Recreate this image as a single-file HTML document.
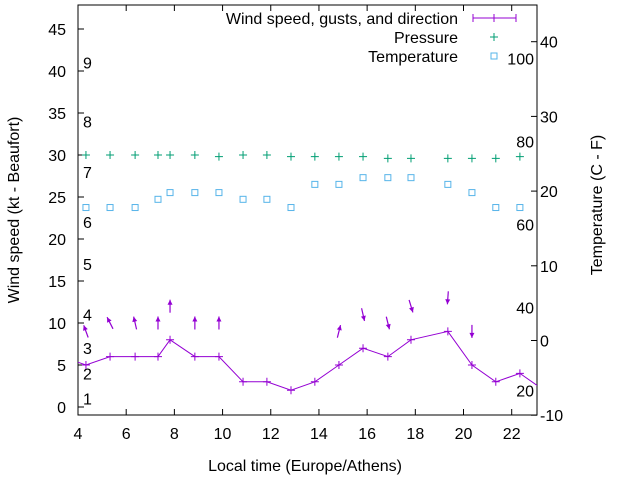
<!DOCTYPE html>
<html><head><meta charset="utf-8"><style>
body{margin:0;background:#fff}
svg{display:block;font-family:"Liberation Sans",sans-serif;font-size:16px}
</style></head><body>
<svg id="c" width="640" height="480" viewBox="0 0 640 480"></svg>
<script>
const hours=[4.33,5.33,6.37,7.32,7.82,8.85,9.85,10.85,11.84,12.84,13.83,14.83,15.83,16.86,17.82,19.35,20.35,21.34,22.34];
const windSpeed=[5,6,6,6,8,6,6,3,3,2,3,5,7,6,8,9,5,3,4];
const windPrevHour=3.33, windPrev=6, windNextHour=23.34, windNext=2;
const gusts=[9,10,10,10,12,10,10,null,null,null,null,9,11,10,12,13,9,null,null];
const windDir=[340,333,347,0,0,0,0,null,null,null,null,14,167,166,163,184,180,null,null];
const pressure=[30,30,30,30,30,30,29.8,30,30,29.8,29.8,29.8,29.8,29.6,29.6,29.6,29.6,29.6,29.8];
const temperature=[17.8,17.8,17.8,18.9,19.8,19.8,19.8,18.9,18.9,17.8,20.9,20.9,21.8,21.8,21.8,20.9,19.8,17.8,17.8];
const xTicks=[4,6,8,10,12,14,16,18,20,22];
const yLeftTicks=[0,5,10,15,20,25,30,35,40,45];
const yRightTicks=[-10,0,10,20,30,40];
const fTicks=[20,40,60,80,100];
const beaufort=[1,4,7,11,17,22,28,34,41];

const L=78,R=537,T=5,B=415;
const X=h=>L+(h-4)*(R-L)/(23.05-4);
const YL=v=>407-v*8.4;
const YR=v=>340.5-v*7.47;
const NS="http://www.w3.org/2000/svg";
const svg=document.getElementById('c');
function el(tag,attrs,parent){const e=document.createElementNS(NS,tag);for(const k in attrs)e.setAttribute(k,attrs[k]);(parent||svg).appendChild(e);return e;}

xTicks.forEach(t=>{
  const x=X(t);
  el('line',{x1:x,y1:B,x2:x,y2:B-6,stroke:'#000'});
  el('line',{x1:x,y1:T,x2:x,y2:T+6,stroke:'#000'});
  const tx=el('text',{x:x,y:B+24,'text-anchor':'middle'});tx.textContent=t;
  
  
});
yLeftTicks.forEach(t=>{
  const y=YL(t);
  el('line',{x1:L,y1:y,x2:L+6,y2:y,stroke:'#000'});
  const tx=el('text',{x:L-12,y:y+6,'text-anchor':'end'});tx.textContent=t;
  
  
});
yRightTicks.forEach(t=>{
  const y=YR(t);
  el('line',{x1:R,y1:y,x2:R-6,y2:y,stroke:'#000'});
  const tx=el('text',{x:R+3,y:y+6,'text-anchor':'start'});tx.textContent=t;
  
  
});
fTicks.forEach(f=>{
  const c=(f-32)*5/9;
  const tx=el('text',{x:R-3,y:YR(c)+6,'text-anchor':'end'});tx.textContent=f;
  
  
});
beaufort.forEach((k,i)=>{
  const tx=el('text',{x:L+5,y:YL(k)+6});tx.textContent=i+1;
  
  
});
const border=el('rect',{x:L,y:T,width:R-L,height:B-T,fill:'none',stroke:'#000'});



const defs=el('defs',{});const cp=el('clipPath',{id:'pc'},defs);el('rect',{x:L,y:T,width:R-L,height:B-T},cp);
const g=el('g',{'clip-path':'url(#pc)'});

const pts=[[windPrevHour,windPrev]].concat(hours.map((h,i)=>[h,windSpeed[i]])).concat([[windNextHour,windNext]]);
const wl=el('polyline',{points:pts.map(p=>X(p[0])+','+YL(p[1])).join(' '),fill:'none',stroke:'#9400d3','stroke-width':1},g);


hours.forEach((h,i)=>{
  const x=X(h),y=YL(windSpeed[i]);
  const p=el('path',{d:`M${x-4},${y}H${x+4}M${x},${y-4}V${y+4}`,stroke:'#9400d3'},g);
  
  
});
hours.forEach((h,i)=>{
  if(gusts[i]==null)return;
  const a=windDir[i]*Math.PI/180,len=13;
  const cx=X(h),cy=YL(gusts[i]);
  const dx=Math.sin(a)*len/2,dy=-Math.cos(a)*len/2;
  const x1=cx-dx,y1=cy-dy,x2=cx+dx,y2=cy+dy;
  const gg=el('g',{},g);
  
  
  el('line',{x1:x1,y1:y1,x2:x2,y2:y2,stroke:'#9400d3','stroke-width':1.2},gg);
  const ux=Math.sin(a),uy=-Math.cos(a);
  const hx=x2-ux*5,hy=y2-uy*5;
  el('polygon',{points:`${x2},${y2} ${hx-uy*2.5},${hy+ux*2.5} ${hx+uy*2.5},${hy-ux*2.5}`,fill:'#9400d3'},gg);
});
hours.forEach((h,i)=>{
  const x=X(h),y=YL(pressure[i]);
  const p=el('path',{d:`M${x-4},${y}H${x+4}M${x},${y-4}V${y+4}`,stroke:'#009e73'},g);
  
  
});
hours.forEach((h,i)=>{
  const x=X(h),y=YR(temperature[i]);
  const p=el('rect',{x:x-3,y:y-3,width:6,height:6,fill:'none',stroke:'#56b4e9'},g);
  
  
});

const lg=el('g',{});


[['Wind speed, gusts, and direction',18],['Pressure',37],['Temperature',56]].forEach((e,i)=>{
  const t=el('text',{x:458,y:e[1]+6,'text-anchor':'end'},lg);t.textContent=e[0];
  
  
});
el('path',{d:'M473,18H516M473,14V22M494,14V22M516,14V22',stroke:'#9400d3',fill:'none'},lg);
el('path',{d:'M490,37H498M494,33V41',stroke:'#009e73'},lg);
el('rect',{x:491,y:53,width:6,height:6,fill:'none',stroke:'#56b4e9'},lg);

const xt=el('text',{x:305,y:471,'text-anchor':'middle'});xt.textContent='Local time (Europe/Athens)';


const yt=el('text',{x:0,y:0,'text-anchor':'middle',transform:'translate(19,210) rotate(-90)'});yt.textContent='Wind speed (kt - Beaufort)';


const rt=el('text',{x:0,y:0,'text-anchor':'middle',transform:'translate(602,205) rotate(-90)'});rt.textContent='Temperature (C - F)';


</script>
</body></html>
